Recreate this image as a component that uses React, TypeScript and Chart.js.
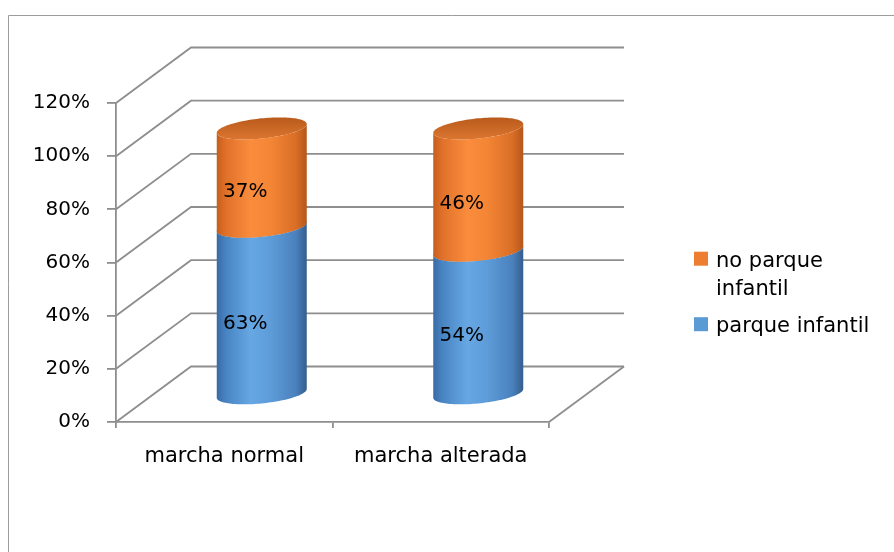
import React, { useEffect, useRef } from 'react';
import { Chart, registerables } from 'chart.js';

Chart.register(...registerables);

// ---- data ----
const categories = ['marcha normal', 'marcha alterada'];
const parqueInfantil = [63, 54];
const noParqueInfantil = [37, 46];
const seriesNames = ['parque infantil', 'no parque infantil'];
const seriesColors = ['#5B9BD5', '#ED7D31'];
const yTickValues = [0, 20, 40, 60, 80, 100, 120];

// ---- styles ----
const FONT = '"DejaVu Sans", sans-serif';
const GRID = '#8e8e8e';
const DX = 75; // depth offset x (full depth)
const DY = 55.5; // depth offset y (full depth)

const SHADES: Record<string, { side: [number, string][]; top: [string, string] }> = {
  '#5B9BD5': {
    side: [
      [0, '#386BA5'],
      [0.1, '#4884C2'],
      [0.38, '#66A7E4'],
      [0.6, '#5D9CD8'],
      [0.88, '#4A81BD'],
      [1, '#345D8C'],
    ],
    top: ['#4A86C6', '#6AA8E2'],
  },
  '#ED7D31': {
    side: [
      [0, '#C55E1C'],
      [0.1, '#E0712A'],
      [0.38, '#FA8C3D'],
      [0.6, '#F38535'],
      [0.88, '#D96E26'],
      [1, '#B5561A'],
    ],
    top: ['#B95A1C', '#DB7630'],
  },
};

function ellPt(cx: number, yc: number, t: number, R: number, ex: number, ey: number) {
  return [cx + R * Math.cos(t) + ex * Math.sin(t), yc - ey * Math.sin(t)];
}

function drawCylinder(
  ctx: CanvasRenderingContext2D,
  cx: number,
  yBot: number,
  yTop: number,
  halfW: number,
  color: string,
  withTop: boolean
) {
  const ey = 11;
  const ex = 0.4 * halfW;
  const R = Math.sqrt(halfW * halfW - ex * ex);
  const t1 = Math.atan2(ex, R);
  const N = 60;
  const shade = SHADES[color];

  ctx.save();
  ctx.beginPath();
  let p = ellPt(cx, yBot, t1 + Math.PI, R, ex, ey);
  ctx.moveTo(p[0], p[1]);
  for (let i = 1; i <= N; i++) {
    const t = t1 + Math.PI + (Math.PI * i) / N;
    p = ellPt(cx, yBot, t, R, ex, ey);
    ctx.lineTo(p[0], p[1]);
  }
  for (let i = 0; i <= N; i++) {
    const t = t1 + 2 * Math.PI - (Math.PI * i) / N;
    p = ellPt(cx, yTop, t, R, ex, ey);
    ctx.lineTo(p[0], p[1]);
  }
  ctx.closePath();
  const g = ctx.createLinearGradient(cx - halfW, 0, cx + halfW, 0);
  shade.side.forEach(([o, c]) => g.addColorStop(o, c));
  ctx.fillStyle = g;
  ctx.fill();

  if (withTop) {
    ctx.beginPath();
    for (let i = 0; i <= N * 2; i++) {
      const t = (2 * Math.PI * i) / (N * 2);
      p = ellPt(cx, yTop, t, R, ex, ey);
      if (i === 0) ctx.moveTo(p[0], p[1]);
      else ctx.lineTo(p[0], p[1]);
    }
    ctx.closePath();
    const tg = ctx.createLinearGradient(0, yTop - ey, 0, yTop + ey);
    tg.addColorStop(0, shade.top[0]);
    tg.addColorStop(1, shade.top[1]);
    ctx.fillStyle = tg;
    ctx.fill();
  }
  ctx.restore();
}

const threeDPlugin = {
  id: 'threeD',
  beforeDraw(chart: any) {
    const { ctx, width, height } = chart;
    ctx.save();
    ctx.fillStyle = '#ffffff';
    ctx.fillRect(0, 0, width, height);
    ctx.strokeStyle = '#9c9c9c';
    ctx.lineWidth = 1;
    ctx.beginPath();
    ctx.moveTo(8.5, height);
    ctx.lineTo(8.5, 15.5);
    ctx.lineTo(width, 15.5);
    ctx.stroke();
    ctx.restore();
  },
  beforeDatasetsDraw(chart: any) {
    const { ctx } = chart;
    const xs = chart.scales.x;
    const ys = chart.scales.y;
    const left = xs.left;
    const right = xs.right;
    ctx.save();
    ctx.strokeStyle = GRID;
    ctx.lineWidth = 1.8;
    ctx.lineJoin = 'miter';
    yTickValues.forEach((v) => {
      const y = ys.getPixelForValue(v);
      ctx.beginPath();
      ctx.moveTo(left, y);
      ctx.lineTo(left + DX, y - DY);
      ctx.lineTo(right + DX, y - DY);
      ctx.stroke();
    });
    const y0 = ys.getPixelForValue(0);
    ctx.beginPath();
    ctx.moveTo(right, y0);
    ctx.lineTo(right + DX, y0 - DY);
    ctx.stroke();
    ctx.restore();

    const nCat = chart.data.labels.length;
    const nDs = chart.data.datasets.length;
    for (let j = 0; j < nCat; j++) {
      for (let i = 0; i < nDs; i++) {
        const el = chart.getDatasetMeta(i).data[j];
        const pr = el.getProps(['x', 'y', 'base', 'width'], true);
        const cx = pr.x + DX / 2;
        drawCylinder(
          ctx,
          cx,
          pr.base - DY / 2,
          pr.y - DY / 2,
          pr.width / 2,
          chart.data.datasets[i].backgroundColor,
          true
        );
      }
    }
    return false;
  },
  afterDraw(chart: any) {
    const { ctx } = chart;
    ctx.save();
    ctx.fillStyle = '#000';
    ctx.font = `20px ${FONT}`;
    ctx.textAlign = 'center';
    ctx.textBaseline = 'middle';
    chart.data.datasets.forEach((ds: any, i: number) => {
      chart.getDatasetMeta(i).data.forEach((el: any, j: number) => {
        const pr = el.getProps(['x', 'y', 'base'], true);
        const x = pr.x + 0.28 * DX;
        const y = (pr.y + pr.base) / 2 - 0.25 * DY;
        ctx.fillText(ds.data[j] + '%', x, y);
      });
    });
    ctx.restore();

    ctx.save();
    ctx.font = `21px ${FONT}`;
    ctx.textAlign = 'left';
    ctx.textBaseline = 'alphabetic';
    const maxW = 165;
    const lineH = 28.5;
    let baseline = 266.7;
    const items = chart.data.datasets.map((d: any) => d).reverse();
    items.forEach((ds: any) => {
      const words = String(ds.label).split(' ');
      const lines: string[] = [];
      let cur = '';
      words.forEach((w) => {
        const test = cur ? cur + ' ' + w : w;
        if (ctx.measureText(test).width > maxW && cur) {
          lines.push(cur);
          cur = w;
        } else cur = test;
      });
      if (cur) lines.push(cur);
      ctx.fillStyle = ds.backgroundColor;
      ctx.fillRect(694, baseline - 15, 14, 14);
      ctx.fillStyle = '#000';
      lines.forEach((ln, k) => ctx.fillText(ln, 716, baseline + k * lineH));
      baseline += lines.length * lineH + 8.5;
    });
    ctx.restore();
  },
};

export default function App() {
  const ref = useRef<HTMLCanvasElement | null>(null);

  useEffect(() => {
    if (!ref.current) return;
    const chart = new Chart(ref.current, {
      type: 'bar',
      data: {
        labels: categories,
        datasets: [
          { label: seriesNames[0], data: parqueInfantil, backgroundColor: seriesColors[0] },
          { label: seriesNames[1], data: noParqueInfantil, backgroundColor: seriesColors[1] },
        ],
      },
      options: {
        responsive: false,
        animation: false,
        devicePixelRatio: 1,
        layout: { padding: { left: 0, top: 103, right: 894 - 549, bottom: 0 } },
        datasets: { bar: { categoryPercentage: 1, barPercentage: 90 / 216.5 } },
        plugins: { legend: { display: false }, tooltip: { enabled: false } },
        scales: {
          x: {
            stacked: true,
            grid: {
              display: true,
              drawOnChartArea: false,
              drawTicks: true,
              tickLength: 6,
              color: GRID,
              lineWidth: 1.8,
              offset: true,
            },
            border: { display: true, color: GRID, width: 1.8 },
            ticks: { color: '#000', font: { family: FONT, size: 21 }, padding: 16, maxRotation: 0 },
            afterFit: (s: any) => {
              s.height = 552 - 422;
            },
          },
          y: {
            stacked: true,
            min: 0,
            max: 120,
            afterBuildTicks: (s: any) => {
              s.ticks = yTickValues.map((v) => ({ value: v }));
            },
            grid: { drawOnChartArea: false, tickLength: 9, color: GRID, lineWidth: 1.8 },
            border: { display: true, color: GRID, width: 1.8 },
            ticks: {
              color: '#000',
              font: { family: FONT, size: 20 },
              padding: 17,
              callback: (v: any) => v + '%',
            },
            afterFit: (s: any) => {
              s.width = 116;
            },
          },
        },
      },
      plugins: [threeDPlugin],
    });
    return () => chart.destroy();
  }, []);

  return (
    <div style={{ position: 'fixed', left: 0, top: 0, width: 894, height: 552, overflow: 'hidden', background: '#fff' }}>
      <canvas ref={ref} width={894} height={552} style={{ display: 'block', width: 894, height: 552 }} />
    </div>
  );
}
